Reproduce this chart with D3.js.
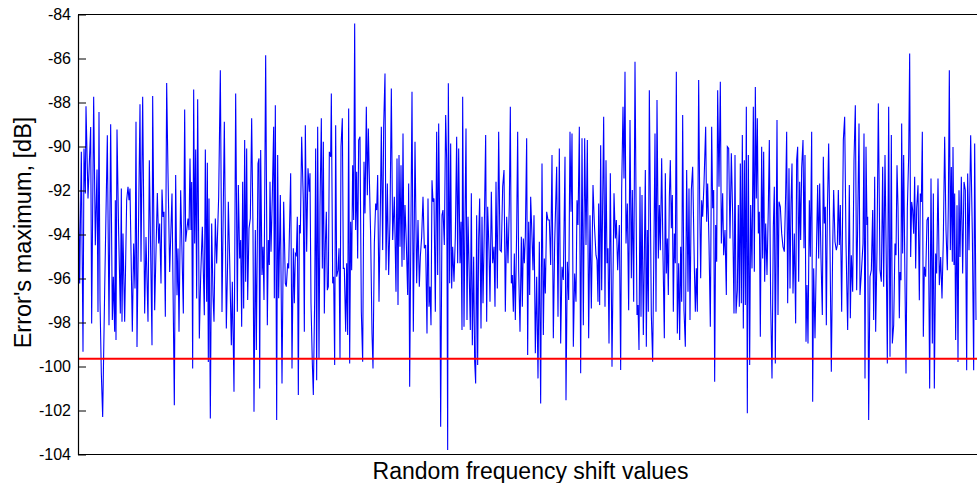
<!DOCTYPE html>
<html>
<head>
<meta charset="utf-8">
<script src="https://cdn.jsdelivr.net/npm/d3@7"></script>
<style>
  html, body { margin: 0; padding: 0; background: #ffffff; }
  svg { display: block; }
  text { font-family: "Liberation Sans", Arial, Helvetica, sans-serif; fill: #000; }
</style>
</head>
<body>
<svg id="chart" width="977" height="483"></svg>
<script>
// ---- data ----
const yTicks = [-104, -102, -100, -98, -96, -94, -92, -90, -88, -86, -84];
const xLabel = "Random frequency shift values";
const yLabel = "Error's maximum, [dB]";
const threshold = -99.65;
// [random shift sample index, error maximum dB]
const samples = [
[0,-90.47],[5,-96.23],[10,-90.24],[15,-99.33],[18,-90.09],[22,-92.14],[24,-88.17],[30,-92.36],[38,-89.11],[41,-98.05],
[47,-87.74],[52,-94.49],[57,-91.05],[60,-97.52],[63,-88.43],[66,-96.99],[70,-100.32],[74,-102.29],[80,-96.53],[88,-89.49],
[93,-98.12],[98,-88.99],[103,-97.89],[106,-95.92],[110,-98.42],[112,-92.44],[114,-98.80],[117,-89.23],[122,-93.96],[127,-97.59],
[130,-91.91],[132,-97.97],[135,-93.96],[140,-97.97],[146,-92.44],[150,-91.83],[153,-92.44],[156,-91.91],[163,-98.42],[167,-94.41],
[171,-96.45],[174,-88.88],[177,-99.11],[186,-88.08],[189,-95.24],[194,-87.74],[200,-97.59],[204,-94.11],[210,-97.97],[214,-90.62],
[222,-99.03],[224,-87.71],[230,-97.44],[238,-92.11],[242,-94.41],[245,-93.50],[249,-96.23],[252,-91.96],[255,-93.20],[258,-92.97],
[262,-97.74],[266,-87.11],[270,-91.23],[275,-95.70],[282,-92.14],[289,-101.76],[293,-91.30],[297,-96.76],[300,-94.64],[303,-98.42],
[308,-91.99],[316,-97.59],[320,-88.32],[323,-94.33],[330,-93.27],[333,-93.80],[336,-90.55],[339,-93.80],[341,-91.61],[344,-100.09],
[347,-87.41],[350,-94.41],[353,-90.14],[356,-96.91],[359,-87.85],[364,-98.73],[368,-95.92],[373,-93.65],[379,-97.67],[382,-90.14],
[386,-97.06],[388,-90.74],[391,-99.79],[393,-92.36],[397,-102.36],[401,-93.50],[405,-96.76],[408,-97.97],[412,-93.27],[416,-95.32],
[422,-92.29],[427,-86.53],[432,-97.52],[439,-88.88],[445,-98.27],
[449,-95.16],[451,-92.51],[455,-95.16],[460,-99.03],[463,-96.15],[468,-101.15],[473,-87.59],[478,-97.51],[481,-91.75],[485,-95.09],
[488,-94.25],[491,-98.19],[494,-91.60],[497,-97.36],[500,-89.71],[503,-96.15],[506,-90.09],[509,-96.98],[513,-93.72],[517,-93.27],
[521,-88.72],[525,-93.87],[528,-102.06],[532,-93.80],[535,-99.25],[540,-90.77],[543,-90.54],[545,-101.0],[548,-90.16],[552,-95.84],
[555,-94.56],[558,-96.98],[563,-85.85],[568,-98.12],[571,-94.25],[574,-95.39],[576,-91.60],[579,-94.78],[583,-92.21],[587,-89.10],
[589,-96.90],[592,-88.12],[596,-102.43],[599,-90.39],[602,-96.90],[607,-92.21],[612,-100.77],[617,-92.51],[622,-96.22],[625,-96.37],
[629,-95.31],[632,-95.54],[638,-91.22],[642,-100.09],[646,-94.63],[649,-97.13],[652,-94.86],[655,-94.94],[658,-93.19],[661,-101.30],
[664,-93.57],[667,-93.95],[671,-89.56],[676,-92.51],[679,-98.42],[682,-89.03],[686,-94.78],[690,-90.99],[694,-92.06],
[696,-91.22],[699,-97.13],[703,-99.86],[706,-101.30],[710,-96.98],[713,-90.09],[716,-100.62],[719,-89.10],[723,-99.63],[726,-92.74],
[730,-88.72],[733,-95.54],[736,-89.78],[739,-97.59],[742,-94.48],[745,-92.97],[748,-96.53],[751,-96.37],[754,-90.24],[758,-90.47],
[760,-87.59],[764,-96.22],[767,-95.92],[770,-99.93],[773,-89.03],[776,-95.92],[780,-95.62],[783,-94.63],[786,-99.63],[789,-90.01],
[793,-88.72],[796,-95.54],[799,-95.54],[803,-98.42],[806,-95.31],[809,-98.57],[812,-88.27],[815,-99.86],[818,-93.42],[821,-95.62],
[824,-90.85],[827,-93.34],[830,-84.41],[833,-93.80],[836,-91.15],[839,-95.09],[842,-89.71],[846,-89.56],[850,-97.51],[854,-99.78],
[858,-90.69],[861,-93.04],[865,-88.19],[868,-92.21],[871,-89.18],[874,-91.38],[878,-94.10],[882,-98.50],[885,-100.09],[889,-94.41],
[893,-92.59],[896,-92.89],[899,-91.30],[903,-97.06],[907,-92.89],[910,-89.10],[914,-94.71],[917,-89.10],[921,-86.68],[924,-95.62],
[928,-91.68],[932,-95.84],[936,-93.34],[940,-87.36],[944,-94.25],[949,-92.28],
[954,-96.60],[957,-90.54],[960,-97.21],[963,-90.39],[966,-94.56],[969,-90.85],[972,-95.47],[975,-89.41],[978,-95.16],[981,-92.66],
[985,-94.41],[989,-96.75],[992,-91.68],[995,-100.92],[998,-95.01],[1002,-87.51],[1006,-98.42],[1011,-89.78],[1016,-96.22],[1020,-93.34],
[1024,-96.37],[1027,-95.01],[1031,-94.10],[1035,-92.28],[1039,-94.63],[1043,-94.48],[1047,-98.50],[1050,-92.36],[1053,-97.28],[1056,-96.37],
[1059,-98.12],[1062,-91.53],[1065,-92.51],[1068,-92.36],[1072,-97.51],[1076,-89.33],[1079,-95.84],[1082,-88.95],[1085,-93.42],[1088,-102.74],
[1092,-93.12],[1095,-92.89],[1099,-94.48],[1103,-88.57],[1106,-90.62],[1109,-103.80],[1111,-87.13],[1115,-96.22],[1118,-89.86],[1121,-96.45],
[1124,-94.56],[1128,-96.15],[1132,-94.10],[1136,-89.56],[1139,-95.31],[1142,-90.09],[1146,-95.31],[1149,-93.42],[1152,-98.34],[1154,-87.74],
[1158,-98.19],[1161,-93.34],[1164,-89.18],[1167,-97.89],[1170,-93.19],[1173,-95.31],[1177,-98.34],[1180,-92.13],[1183,-99.03],[1187,-95.01],
[1190,-99.78],[1193,-100.77],[1196,-93.12],[1199,-99.93],[1202,-94.18],[1205,-92.36],
[1209,-98.27],[1212,-93.19],[1215,-97.13],[1218,-94.56],[1223,-89.48],[1226,-97.97],[1229,-92.74],[1233,-94.71],[1236,-97.06],[1240,-92.06],
[1244,-95.31],[1248,-94.56],[1251,-97.28],[1254,-91.60],[1258,-96.45],[1262,-89.33],[1266,-94.71],[1270,-94.78],[1274,-91.83],[1278,-91.07],
[1282,-97.51],[1286,-93.19],[1290,-95.31],[1294,-92.59],[1297,-88.19],[1300,-96.22],[1303,-95.84],[1306,-97.51],[1309,-94.86],[1312,-97.89],
[1316,-93.80],[1319,-89.33],[1322,-95.62],[1326,-98.42],[1330,-94.10],[1333,-97.28],[1336,-94.18],[1339,-95.31],[1342,-94.10],[1346,-89.63],
[1349,-99.48],[1352,-93.42],[1355,-96.75],[1358,-92.28],[1362,-94.10],[1365,-95.62],[1368,-93.12],[1372,-99.40],[1376,-95.92],[1380,-100.54],
[1384,-94.33],[1388,-101.68],[1392,-90.77],[1396,-98.57],[1399,-95.09],[1402,-96.68],[1406,-92.97],[1410,-93.34],[1414,-93.34],[1418,-95.39],
[1422,-90.39],[1426,-98.72],[1430,-94.41],[1436,-90.92],[1440,-97.74],[1444,-90.09],[1448,-98.95],[1452,-95.47],[1456,-96.07],
[1461,-90.47],[1464,-101.53],[1468,-95.24],[1472,-96.98],[1476,-89.33],[1479,-92.97],[1482,-89.41],[1486,-99.10],[1490,-95.77],[1494,-97.06],
[1497,-92.44],[1500,-93.57],[1504,-89.10],[1508,-100.31],[1512,-89.63],[1516,-98.12],[1520,-89.63],[1524,-94.48],[1528,-89.71],[1532,-98.72],
[1536,-93.12],[1540,-97.36],[1545,-91.75],[1549,-93.50],[1554,-94.94],[1557,-95.16],[1560,-97.06],[1562,-92.59],[1565,-97.21],[1568,-89.94],
[1571,-96.53],[1574,-92.59],[1577,-88.65],[1581,-97.28],[1584,-90.62],[1587,-95.31],[1590,-94.63],[1593,-98.95],[1597,-91.22],[1602,-100.01],
[1608,-92.13],[1612,-94.18],[1615,-93.34],[1619,-95.62],[1624,-93.57],[1628,-100.16],[1631,-91.98],[1635,-88.19],[1638,-91.45],[1641,-86.60],
[1644,-94.41],[1648,-92.59],[1652,-97.44],[1656,-88.80],[1660,-95.99],[1663,-91.98],[1667,-97.06],[1671,-86.15],[1674,-92.28],[1677,-97.66],
[1680,-97.21],[1683,-99.25],[1686,-91.83],[1689,-97.74],[1692,-92.21],[1696,-98.57],[1699,-95.01],[1702,-91.07],[1705,-99.10],[1708,-93.80],
[1711,-97.51],[1714,-87.44],
[1720,-97.66],[1724,-99.78],[1728,-94.18],[1731,-89.41],[1734,-97.51],[1737,-87.89],[1741,-95.09],[1744,-92.66],[1747,-94.71],[1751,-90.54],
[1755,-94.94],[1759,-98.72],[1762,-91.22],[1765,-95.77],[1768,-94.18],[1771,-96.75],[1774,-92.28],[1777,-90.62],[1780,-93.72],[1783,-92.21],
[1786,-97.51],[1789,-93.95],[1792,-95.31],[1795,-86.60],[1798,-98.50],[1802,-95.31],[1805,-98.80],[1808,-94.56],[1811,-97.06],[1814,-88.57],
[1818,-97.44],[1822,-99.10],[1826,-91.07],[1830,-96.60],[1833,-91.91],[1836,-97.89],[1840,-91.98],[1844,-90.92],[1849,-95.47],[1852,-97.51],
[1855,-95.54],[1858,-97.51],[1862,-86.98],[1865,-92.36],[1868,-95.99],[1871,-92.44],[1874,-93.19],[1878,-91.68],[1883,-89.10],[1886,-93.42],
[1889,-91.68],[1893,-94.41],[1897,-98.19],[1901,-89.10],[1904,-92.81],[1907,-91.98],[1910,-100.69],[1913,-93.57],[1916,-95.24],[1919,-87.44],
[1923,-91.83],[1927,-87.06],[1930,-94.41],[1934,-92.13],[1937,-94.94],[1941,-93.80],[1945,-96.75],[1948,-90.01],[1952,-90.09],[1956,-94.18],
[1960,-90.31],[1964,-93.12],[1968,-97.59],
[1971,-90.39],[1974,-97.59],[1978,-96.53],[1981,-92.66],[1984,-97.28],[1987,-90.77],[1990,-97.13],[1993,-89.48],[1996,-98.27],[1999,-90.62],
[2002,-97.21],[2005,-88.19],[2008,-102.13],[2011,-90.39],[2015,-99.93],[2018,-92.66],[2022,-95.54],[2026,-88.19],[2029,-95.69],[2032,-87.29],
[2035,-92.36],[2038,-88.72],[2041,-93.95],[2044,-92.97],[2047,-98.65],[2051,-90.01],[2054,-95.09],[2057,-90.24],[2060,-96.15],[2063,-93.50],
[2067,-95.84],[2071,-92.74],[2074,-89.71],[2078,-97.13],[2082,-100.54],[2086,-93.65],[2089,-91.83],[2092,-99.86],[2097,-88.80],[2100,-97.66],
[2103,-92.51],[2107,-92.74],[2111,-93.95],[2115,-94.56],[2119,-94.78],[2123,-92.13],[2126,-89.33],[2129,-97.13],[2133,-90.99],[2136,-96.45],
[2139,-92.59],[2142,-90.77],[2145,-96.68],[2149,-93.95],[2153,-98.04],[2156,-90.62],[2159,-90.01],[2162,-96.15],[2165,-91.60],[2168,-94.25],
[2171,-90.99],[2175,-89.71],[2178,-94.63],[2181,-90.39],[2184,-98.87],[2187,-96.30],[2190,-98.95],[2194,-92.44],[2197,-95.01],[2201,-89.33],
[2204,-101.60],[2207,-95.54],[2211,-98.72],[2215,-95.01],[2219,-91.75],[2222,-95.09],[2225,-91.68],
[2229,-95.09],[2233,-97.66],[2236,-90.47],[2239,-93.50],[2242,-92.74],[2245,-98.12],[2248,-93.04],[2252,-89.86],[2256,-94.56],[2260,-100.24],
[2264,-94.63],[2267,-91.98],[2271,-94.33],[2275,-94.71],[2278,-94.48],[2281,-91.98],[2284,-94.48],[2287,-92.66],[2291,-97.51],[2296,-89.71],
[2300,-88.65],[2304,-94.41],[2309,-98.34],[2314,-91.75],[2317,-97.81],[2320,-94.94],[2324,-96.60],[2328,-90.62],[2332,-88.12],[2336,-96.53],
[2339,-93.65],[2343,-88.95],[2346,-96.75],[2350,-95.77],[2355,-94.41],[2358,-89.41],[2361,-100.54],[2364,-90.01],[2367,-93.57],[2369,-93.19],
[2372,-102.43],[2376,-95.92],[2380,-95.62],[2384,-92.89],[2387,-97.89],[2390,-91.38],[2393,-98.42],[2397,-94.71],[2401,-88.04],[2406,-95.62],
[2410,-96.15],[2414,-90.92],[2417,-96.37],[2421,-90.39],[2425,-95.47],[2428,-99.86],[2432,-88.19],[2436,-99.56],[2440,-89.48],[2443,-98.95],
[2447,-98.12],[2451,-94.41],[2454,-94.94],[2457,-90.85],[2460,-92.74],[2464,-97.81],
[2466,-95.70],[2469,-96.08],[2471,-88.96],[2474,-94.86],[2477,-90.39],[2480,-94.86],[2484,-100.32],[2488,-92.82],[2492,-90.47],[2495,-85.77],
[2498,-95.02],[2501,-92.52],[2504,-92.89],[2507,-93.96],[2510,-91.38],[2513,-95.55],[2516,-92.82],[2520,-91.76],[2524,-96.99],[2527,-92.14],
[2530,-92.52],[2533,-89.33],[2536,-98.65],[2539,-95.47],[2543,-95.92],[2547,-93.35],[2551,-93.20],[2555,-101.0],[2559,-91.46],[2563,-98.95],
[2566,-92.14],[2569,-101.0],[2573,-94.86],[2576,-95.77],[2580,-91.46],[2584,-96.30],[2588,-95.02],[2592,-96.91],[2596,-94.18],[2600,-89.56],
[2604,-93.80],[2608,-95.62],[2611,-92.67],[2614,-86.53],[2617,-94.71],[2620,-90.93],[2623,-95.24],[2625,-90.02],[2628,-95.39],[2630,-92.14],
[2633,-98.80],[2637,-92.67],[2640,-99.79],[2643,-91.99],[2646,-95.02],[2650,-91.38],[2654,-95.77],[2658,-91.61],[2662,-91.99],[2666,-100.17],
[2669,-91.23],[2673,-94.71],[2678,-89.49],[2683,-93.96],[2687,-100.17],[2690,-89.86],[2694,-97.89]
];
const xDomain = [0, 2697];
const yDomain = [-104, -84];

(function () {
  // ---- layout ----
  const svg = d3.select("#chart");
  const mLeft = 78, mRight = 977, mTop = 14.5, mBottom = 454.5;

  const x = d3.scaleLinear().domain(xDomain).range([mLeft, mRight]);
  const y = d3.scaleLinear().domain(yDomain).range([mBottom, mTop]);

  svg.append("defs").append("clipPath").attr("id", "plotclip")
    .append("rect").attr("x", mLeft).attr("y", mTop).attr("width", mRight - mLeft).attr("height", mBottom - mTop);

  const plot = svg.append("g").attr("clip-path", "url(#plotclip)");

  // data line
  plot.append("path")
    .datum(samples)
    .attr("fill", "none")
    .attr("stroke", "#0000ff")
    .attr("stroke-width", 1.1)
    .attr("stroke-linejoin", "miter")
    .attr("d", d3.line().x(d => x(d[0])).y(d => y(d[1])));

  // threshold line
  plot.append("line")
    .attr("x1", mLeft).attr("x2", mRight)
    .attr("y1", y(threshold)).attr("y2", y(threshold))
    .attr("stroke", "#ff0000").attr("stroke-width", 2);

  // frame: top and bottom borders
  svg.append("line").attr("x1", mLeft).attr("x2", mRight).attr("y1", mTop).attr("y2", mTop)
    .attr("stroke", "#000").attr("stroke-width", 1.2);
  svg.append("line").attr("x1", mLeft).attr("x2", mRight).attr("y1", mBottom).attr("y2", mBottom)
    .attr("stroke", "#000").attr("stroke-width", 1.2);

  // left axis with inward ticks
  const yAxis = d3.axisLeft(y).tickValues(yTicks).tickSizeInner(-8).tickSizeOuter(0).tickPadding(7)
    .tickFormat(d => String(d));
  const gy = svg.append("g").attr("transform", `translate(${mLeft},0)`).call(yAxis);
  gy.select(".domain").attr("stroke", "#000").attr("stroke-width", 1.2);
  gy.selectAll(".tick line").attr("stroke", "#000").attr("stroke-width", 1);
  gy.selectAll(".tick text").attr("font-size", 16).attr("font-family", "Liberation Sans, Arial, sans-serif");

  // axis labels
  svg.append("text")
    .attr("x", (mLeft + mRight) / 2 + 3).attr("y", 479)
    .attr("text-anchor", "middle").attr("font-size", 23)
    .text(xLabel);

  svg.append("text")
    .attr("transform", `translate(31,${(mTop + mBottom) / 2 - 2}) rotate(-90)`)
    .attr("text-anchor", "middle").attr("font-size", 23.5)
    .text(yLabel);
})();
</script>
</body>
</html>
